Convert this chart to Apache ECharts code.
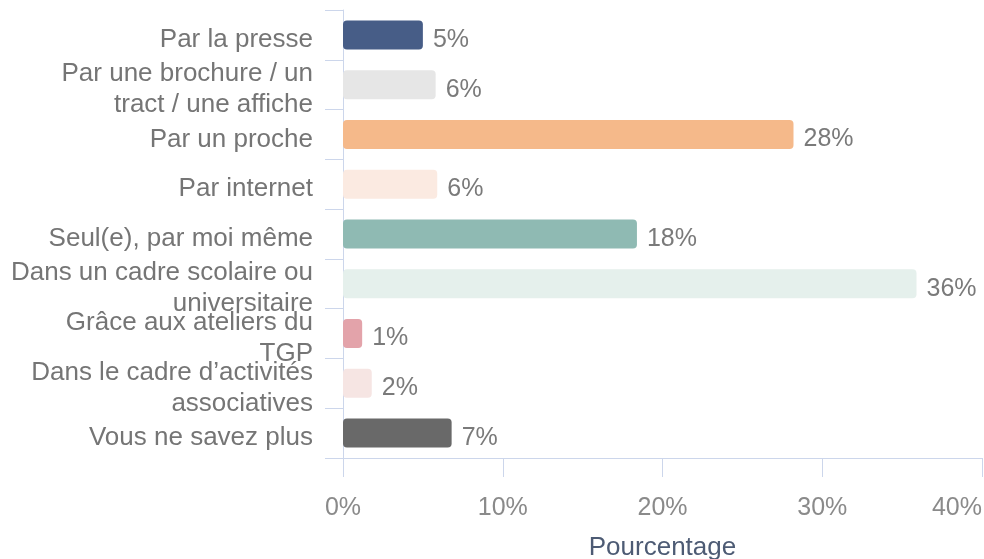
<!DOCTYPE html>
<html>
<head>
<meta charset="utf-8">
<script src="https://cdn.jsdelivr.net/npm/echarts@6/dist/echarts.min.js"></script>
<style>
html,body{margin:0;padding:0;background:#fff;}
#chart{width:984px;height:559px;}
</style>
</head>
<body>
<div id="chart"></div>
<script>
const categories = [
  "Par la presse",
  "Par une brochure / un\ntract / une affiche",
  "Par un proche",
  "Par internet",
  "Seul(e), par moi même",
  "Dans un cadre scolaire ou\nuniversitaire",
  "Grâce aux ateliers du\nTGP",
  "Dans le cadre d’activités\nassociatives",
  "Vous ne savez plus"
];
const values = [5.0, 5.8, 28.2, 5.9, 18.4, 35.9, 1.2, 1.8, 6.8];
const barColors = ["#475d87", "#e6e6e6", "#f5b98a", "#fbeae1", "#8fbab3", "#e5f0ec", "#e3a3aa", "#f6e5e3", "#696969"];
const xTicks = [0, 10, 20, 30, 40];
const axisName = "Pourcentage";

const chart = echarts.init(document.getElementById('chart'), null, {renderer: 'canvas'});
const font = '"Liberation Sans", Arial, sans-serif';
chart.setOption({
  animation: false,
  textStyle: {fontFamily: font},
  grid: {left: 343, right: 2, top: 10, bottom: 101, containLabel: false, outerBoundsMode: 'none'},
  xAxis: {
    type: 'value',
    min: xTicks[0],
    max: xTicks[xTicks.length - 1],
    interval: xTicks[1] - xTicks[0],
    axisLine: {show: true, lineStyle: {color: '#ccd6eb', width: 1}},
    axisTick: {show: true, length: 19, lineStyle: {color: '#ccd6eb'}},
    splitLine: {show: false},
    axisLabel: {
      formatter: '{value}%', color: '#8a8a8a', fontSize: 25, margin: 38,
      fontFamily: font, alignMaxLabel: 'right'
    },
    name: axisName,
    nameLocation: 'middle',
    nameGap: 77,
    nameTextStyle: {color: '#4d5b74', fontSize: 26, fontFamily: font}
  },
  yAxis: {
    type: 'category',
    inverse: true,
    data: categories,
    axisLine: {show: true, lineStyle: {color: '#ccd6eb', width: 1}},
    axisTick: {show: true, length: 18, lineStyle: {color: '#ccd6eb'}},
    axisLabel: {
      margin: 30, interval: 0,
      formatter: v => v.split('\n').map(s => '{a|' + s + '}').join('\n'),
      rich: {
        a: {color: '#757575', fontSize: 26, fontFamily: font, lineHeight: 31, padding: [10, 0, 0, 0]}
      }
    }
  },
  series: [{
    type: 'bar',
    barWidth: 29,
    data: values.map((v, i) => ({value: v, itemStyle: {color: barColors[i], borderRadius: 4}})),
    label: {
      show: true, position: 'right', distance: 10, offset: [0, 5],
      color: '#7a7a7a', fontSize: 25, fontFamily: font,
      formatter: p => Math.round(p.value) + '%'
    }
  }]
});
</script>
</body>
</html>
